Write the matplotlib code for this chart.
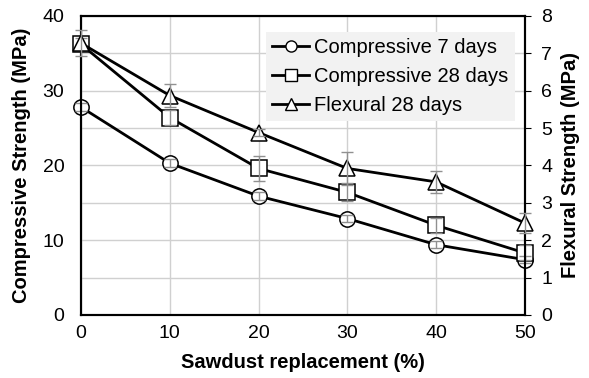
import matplotlib.pyplot as plt

plt.rcParams['font.family'] = ['Liberation Sans', 'DejaVu Sans']

sawdust = [0, 10, 20, 30, 40, 50]
comp7 = [27.8, 20.3, 15.9, 12.9, 9.4, 7.4]
comp7_err = [0.5, 0.5, 0.5, 0.5, 0.5, 0.5]
comp28 = [36.2, 26.4, 19.6, 16.4, 12.0, 8.3]
comp28_err = [0.8, 1.0, 1.7, 1.2, 1.0, 1.0]
flex28 = [7.27, 5.87, 4.88, 3.92, 3.56, 2.46]
flex28_err = [0.35, 0.3, 0.1, 0.45, 0.3, 0.27]

fig = plt.figure(figsize=(5.89, 3.78), dpi=100)
ax = fig.add_axes([0.1375, 0.1667, 0.7535, 0.7913])
ax2 = ax.twinx()

mk = dict(color='k', lw=2, ms=11, mfc='white', mec='k', mew=1.1, clip_on=False)
eb = dict(fmt='none', ecolor='#909090', elinewidth=1, capsize=4, zorder=5, clip_on=False)

l1, = ax.plot(sawdust, comp7, marker='o', label='Compressive 7 days', zorder=3, **mk)
ax.errorbar(sawdust, comp7, yerr=comp7_err, **eb)
l2, = ax.plot(sawdust, comp28, marker='s', label='Compressive 28 days', zorder=3, **mk)
ax.errorbar(sawdust, comp28, yerr=comp28_err, **eb)
l3, = ax2.plot(sawdust, flex28, marker='^', label='Flexural 28 days', zorder=3, **mk)
ax2.errorbar(sawdust, flex28, yerr=flex28_err, **eb)

ax.set_xlim(0, 50)
ax.set_ylim(0, 40)
ax2.set_ylim(0, 8)
ax.set_xticks(range(0, 51, 10))
ax.set_yticks(range(0, 41, 10))
ax2.set_yticks(range(0, 9, 1))
ax.set_yticks(range(0, 41, 5), minor=True)

ax.grid(True, which='both', color='#d0d0d0', lw=1)
ax.tick_params(which='minor', length=0)
ax.tick_params(axis='x', length=0, labelsize=14, pad=7)
ax.tick_params(axis='y', length=0, labelsize=14, pad=12)
ax2.tick_params(axis='y', direction='out', length=4, labelsize=14, pad=8)
for a in (ax, ax2):
    for s in a.spines.values():
        s.set_linewidth(1.5)

ax.set_xlabel('Sawdust replacement (%)', fontsize=14.5, fontweight='bold', labelpad=8)
ax.set_ylabel('Compressive Strength (MPa)', fontsize=14.5, fontweight='bold', labelpad=8)
ax2.set_ylabel('Flexural Strength (MPa)', fontsize=14.5, fontweight='bold', labelpad=6)

leg = ax2.legend(handles=[l1, l2, l3], loc='upper right', bbox_to_anchor=(0.977, 0.946),
                 borderaxespad=0, fontsize=14.5, frameon=True, fancybox=False,
                 handlelength=1.85, handletextpad=0.25, borderpad=0.3, labelspacing=0.5)
leg.get_frame().set_facecolor('#f2f2f2')
leg.get_frame().set_edgecolor('none')
leg.get_frame().set_alpha(1)
for h in leg.legend_handles:
    h.set_markersize(8)
    h.set_markeredgewidth(1)

fig.savefig('out.png')
